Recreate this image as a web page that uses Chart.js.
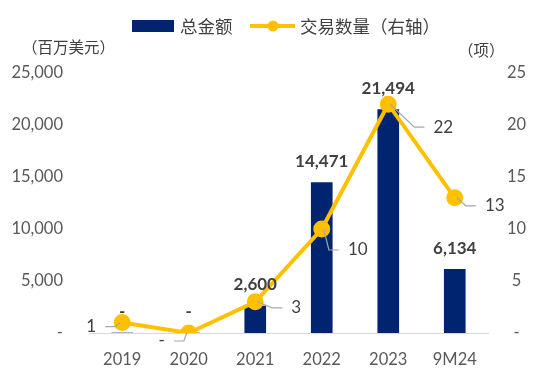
<!DOCTYPE html>
<html>
<head>
<meta charset="utf-8">
<script src="https://cdn.jsdelivr.net/npm/chart.js@4"></script>
<style>
  html, body { margin: 0; padding: 0; background: #fff; }
</style>
</head>
<body>
<canvas id="chart" width="550" height="377"></canvas>
<script>
// data
const years = ['2019', '2020', '2021', '2022', '2023', '9M24'];
const totalAmount = [0, 0, 2600, 14471, 21494, 6134];   // 百万美元
const dealCount = [1, 0, 3, 10, 22, 13];               // 项 (右轴)
const leftTicks = [0, 5000, 10000, 15000, 20000, 25000];
const rightTicks = [0, 5, 10, 15, 20, 25];

const NAVY = '#00246F';
const GOLD = '#FFC000';
const TEXT = '#404040';
const LATO = 'Lato, "Noto Sans", sans-serif';
const CJK = '"Noto Sans CJK SC", sans-serif';

// offset of each count label from its point (dx, dy)
const countLabelShift = [[-31, 4], [-27, 8], [41, 6], [36, 21], [55, 23], [40, 8]];

function fmt(v) {
    return v === 0 ? '-' : v.toLocaleString('en-US');
}

const overlay = {
    id: 'overlay',
    afterDatasetsDraw(chart) {
        const ctx = chart.ctx;
        const bars = chart.getDatasetMeta(0).data;
        const pts = chart.getDatasetMeta(1).data;
        ctx.save();
        ctx.textAlign = 'center';
        ctx.textBaseline = 'middle';
        ctx.fillStyle = TEXT;

        // bar value labels
        ctx.font = 'bold 17px ' + LATO;
        bars.forEach((bar, i) => {
            ctx.fillText(fmt(totalAmount[i]), bar.x, bar.y - 21);
        });

        // count labels with leader lines
        ctx.font = '17px ' + LATO;
        pts.forEach((p, i) => {
            const txt = fmt(dealCount[i]);
            const lx = p.x + countLabelShift[i][0];
            const ly = p.y + countLabelShift[i][1];
            const sgn = countLabelShift[i][0] > 0 ? 1 : -1;
            const w = ctx.measureText(txt).width;
            const endX = lx - sgn * (w / 2 + 9);
            const midX = endX - sgn * 10;
            ctx.strokeStyle = '#A6A6A6';
            ctx.lineWidth = 1.2;
            ctx.beginPath();
            ctx.moveTo(p.x + sgn * 2, p.y);
            ctx.lineTo(midX, ly);
            ctx.lineTo(endX, ly);
            ctx.stroke();
            ctx.fillText(txt, lx, ly);
        });
        ctx.restore();
    },
    afterDraw(chart) {
        const ctx = chart.ctx;
        ctx.save();
        ctx.textBaseline = 'middle';
        ctx.textAlign = 'left';

        // legend
        ctx.fillStyle = NAVY;
        ctx.fillRect(132, 20, 42, 12);
        ctx.fillStyle = TEXT;
        ctx.font = '17.5px ' + CJK;
        ctx.fillText('总金额', 180, 26);

        ctx.strokeStyle = GOLD;
        ctx.lineWidth = 4;
        ctx.beginPath();
        ctx.moveTo(250, 26);
        ctx.lineTo(295, 26);
        ctx.stroke();
        ctx.fillStyle = GOLD;
        ctx.beginPath();
        ctx.arc(273, 26, 5.5, 0, Math.PI * 2);
        ctx.fill();
        ctx.fillStyle = TEXT;
        ctx.fillText('交易数量（右轴）', 300, 26);

        // axis units
        ctx.font = '15.5px ' + CJK;
        ctx.fillText('（百万美元）', 22, 47);
        ctx.fillText('（项）', 458, 50);
        ctx.restore();
    }
};

const chart = new Chart(document.getElementById('chart'), {
    type: 'bar',
    data: {
        labels: years,
        datasets: [{
            type: 'bar',
            label: '总金额',
            data: totalAmount,
            backgroundColor: NAVY,
            barThickness: 21,
            yAxisID: 'y',
            order: 1,
        }, {
            type: 'line',
            label: '交易数量（右轴）',
            data: dealCount,
            borderColor: GOLD,
            backgroundColor: GOLD,
            borderWidth: 4,
            pointRadius: 6.5,
            pointHoverRadius: 6.5,
            tension: 0,
            yAxisID: 'y1',
            order: 0,
        }]
    },
    options: {
        responsive: false,
        animation: false,
        layout: { padding: { top: 73, left: 0, right: 0, bottom: 0 } },
        plugins: {
            legend: { display: false },
            tooltip: { enabled: false },
        },
        scales: {
            x: {
                grid: { display: false },
                border: { color: '#D9D9D9', width: 1 },
                ticks: { color: '#595959', font: { family: LATO, size: 16.5 }, padding: 9 },
                afterFit: s => { s.height = 44; },
            },
            y: {
                position: 'left',
                min: 0,
                max: 25000,
                grid: { display: false, drawTicks: false },
                border: { display: false },
                afterBuildTicks: s => { s.ticks = leftTicks.map(v => ({ value: v })); },
                ticks: {
                    color: '#595959',
                    font: { family: LATO, size: 16.5 },
                    padding: 26,
                    callback: v => fmt(v),
                },
                afterFit: s => { s.width = 89; },
            },
            y1: {
                position: 'right',
                min: 0,
                max: 25,
                grid: { display: false, drawTicks: false },
                border: { display: false },
                afterBuildTicks: s => { s.ticks = rightTicks.map(v => ({ value: v })); },
                ticks: {
                    color: '#595959',
                    font: { family: LATO, size: 16.5 },
                    padding: 19,
                    crossAlign: 'center',
                    callback: v => fmt(v),
                },
                afterFit: s => { s.width = 62; },
            }
        }
    },
    plugins: [overlay]
});
</script>
</body>
</html>
